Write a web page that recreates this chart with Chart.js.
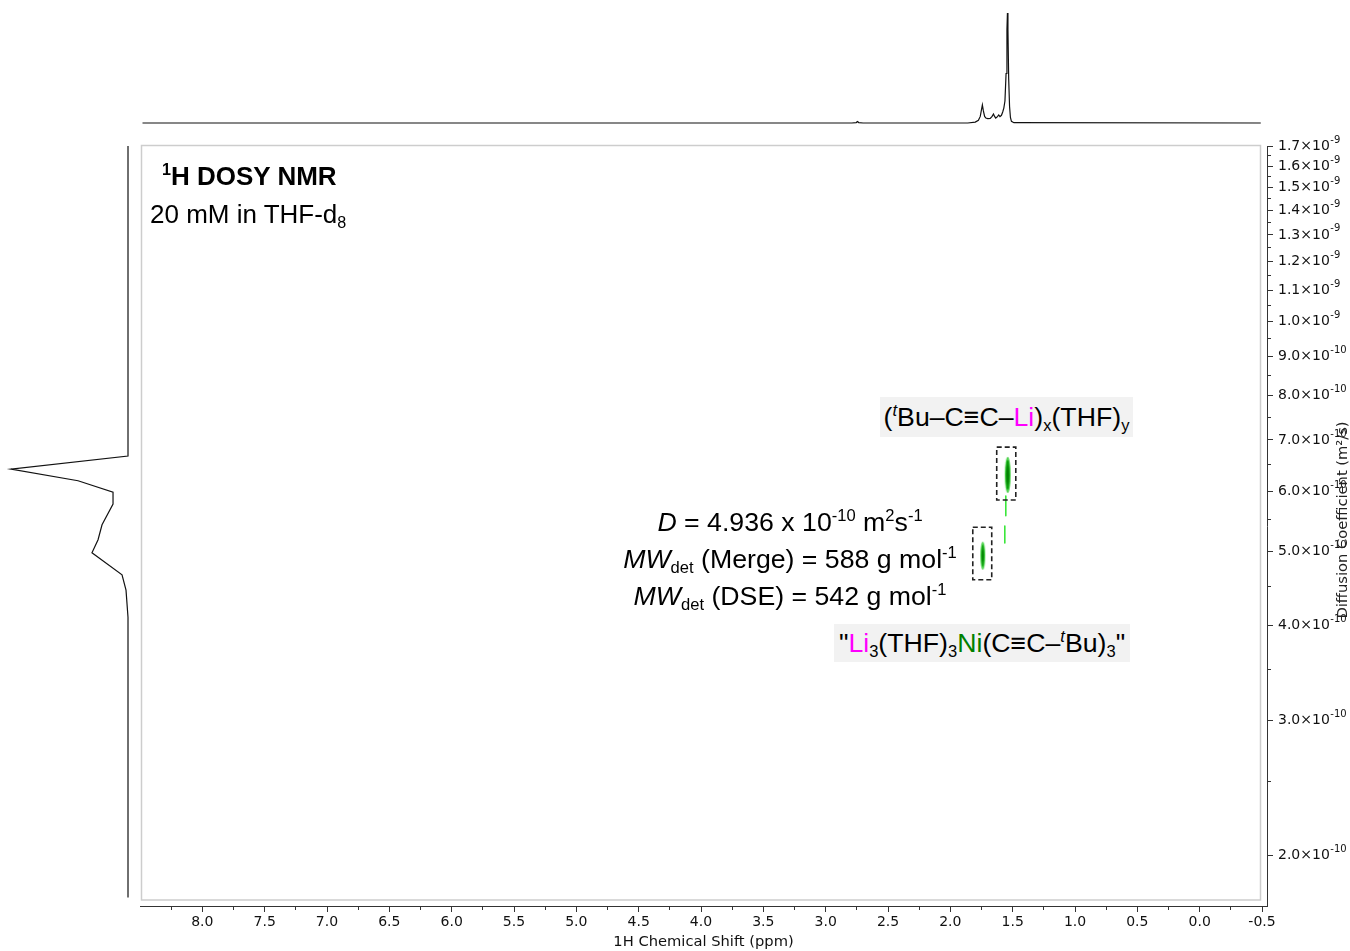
<!DOCTYPE html>
<html>
<head>
<meta charset="utf-8">
<script src="https://cdn.jsdelivr.net/npm/chart.js@4.4.1/dist/chart.umd.min.js"></script>
<style>
  html, body { margin: 0; padding: 0; background: #fff; }
  #wrap { position: relative; width: 1350px; height: 951px; overflow: hidden;
          font-family: "Liberation Sans", Arial, sans-serif; color: #000; }
  canvas { position: absolute; }
  #main { left: 0; top: 0; }
  #top  { left: 140px; top: 0; }
  #side { left: 0; top: 146px; }
  .lbl { position: absolute; white-space: nowrap; font-size: 26.7px; }
  sup, sub { font-size: 62%; line-height: 0; position: relative; vertical-align: baseline; }
  sup { top: -0.62em; }
  sub { top: 0.32em; }
  .box { background: #f2f2f2; text-align: center; }
  .li { color: #ff00ff; }
  .ni { color: #008000; }
</style>
</head>
<body>
<div id="wrap">
  <canvas id="main" width="1350" height="951"></canvas>
  <canvas id="top" width="1127" height="130"></canvas>
  <canvas id="side" width="135" height="760"></canvas>

  <div class="lbl" style="left:162px;top:160px;font-weight:bold;font-size:26px;line-height:32px"><sup>1</sup>H DOSY NMR</div>
  <div class="lbl" style="left:150px;top:198px;font-size:26px;line-height:32px">20 mM in THF-d<sub>8</sub></div>

  <div class="lbl box" style="left:880px;top:397px;width:253px;height:40px;line-height:40px">(<sup><i>t</i></sup>Bu–C≡C–<span class="li">Li</span>)<sub>x</sub>(THF)<sub>y</sub></div>

  <div class="lbl" style="left:590px;top:504px;width:400px;text-align:center;line-height:37px"><i>D</i> = <span id="dval"></span> x 10<sup>-10</sup> m<sup>2</sup>s<sup>-1</sup><br><i>MW</i><sub>det</sub> (Merge) = 588 g mol<sup>-1</sup><br><i>MW</i><sub>det</sub> (DSE) = 542 g mol<sup>-1</sup></div>

  <div class="lbl box" style="left:834px;top:624px;width:296px;height:38px;line-height:38px">"<span class="li">Li</span><sub>3</sub>(THF)<sub>3</sub><span class="ni">Ni</span>(C≡C–<sup><i>t</i></sup>Bu)<sub>3</sub>"</div>
</div>

<script>
// ---- 1D 1H spectrum (top projection): chemical shift (ppm) / relative intensity
const specShift = [8.48, 2.79, 2.755, 2.745, 2.735, 2.70, 1.86, 1.80, 1.775, 1.76, 1.752, 1.743, 1.735,
                   1.725, 1.715, 1.70, 1.68, 1.665, 1.654, 1.645, 1.636, 1.622, 1.612, 1.602, 1.59,
                   1.58, 1.571, 1.562, 1.553, 1.546, 1.542, 1.538, 1.532, 1.525, 1.518, 1.51, 1.49, -0.49];
const specIntensity = [0, 0, 0.004, 0.014, 0.004, 0, 0, 0.008, 0.025, 0.06, 0.11, 0.164, 0.11,
                       0.06, 0.045, 0.04, 0.042, 0.06, 0.082, 0.06, 0.045, 0.058, 0.073, 0.058, 0.07,
                       0.1, 0.136, 0.2, 0.45, 0.85, 1.0, 0.85, 0.4, 0.15, 0.05, 0.015, 0.003, 0];

// ---- Diffusion projection (left): diffusion coefficient (m^2/s) / relative intensity
const projD = [1.7e-9, 6.67e-10, 6.41e-10, 6.19e-10, 5.98e-10, 5.77e-10, 5.42e-10, 5.18e-10,
               4.98e-10, 4.66e-10, 4.45e-10, 4.10e-10, 1.76e-10];
const projIntensity = [0, 0, 1.0, 0.427, 0.128, 0.128, 0.222, 0.256, 0.308, 0.051, 0.017, 0, 0];

// ---- Cross peaks of the DOSY map (shift, diffusion coefficient)
const crossShift = [1.540, 1.740];
const crossD     = [6.30e-10, 4.936e-10];

// ---- Weak streaks between the two species
const streakShift = [1.555, 1.563];
const streakDHigh = [5.91e-10, 5.40e-10];
const streakDLow  = [5.57e-10, 5.13e-10];

// ---- Marked regions around the cross peaks
const boxShiftLeft  = [1.628, 1.820];
const boxShiftRight = [1.475, 1.668];
const boxDHigh      = [6.85e-10, 5.38e-10];
const boxDLow       = [5.84e-10, 4.59e-10];

// ---- Axis ranges and ticks
const X_MIN = -0.54, X_MAX = 8.5;
const D_MIN = 1.715e-10, D_MAX = 1.7e-9;
const SPEC_MIN = -0.0636, SPEC_MAX = 1.118;
const PROJ_MIN = -0.0598, PROJ_MAX = 1.094;

const xMajorTicks = [8.0, 7.5, 7.0, 6.5, 6.0, 5.5, 5.0, 4.5, 4.0, 3.5, 3.0, 2.5, 2.0, 1.5, 1.0, 0.5, 0.0, -0.5];
const xTickLabels = ['8.0', '7.5', '7.0', '6.5', '6.0', '5.5', '5.0', '4.5', '4.0', '3.5', '3.0', '2.5',
                     '2.0', '1.5', '1.0', '0.5', '0.0', '-0.5'];
const xMinorTicks = [8.25, 7.75, 7.25, 6.75, 6.25, 5.75, 5.25, 4.75, 4.25, 3.75, 3.25, 2.75, 2.25,
                     1.75, 1.25, 0.75, 0.25, -0.25];

const yMajorTicks = [2e-10, 3e-10, 4e-10, 5e-10, 6e-10, 7e-10, 8e-10, 9e-10,
                     1.0e-9, 1.1e-9, 1.2e-9, 1.3e-9, 1.4e-9, 1.5e-9, 1.6e-9, 1.7e-9];
const yTickLabels = ['2.0×10', '3.0×10', '4.0×10', '5.0×10', '6.0×10', '7.0×10', '8.0×10', '9.0×10',
                     '1.0×10', '1.1×10', '1.2×10', '1.3×10', '1.4×10', '1.5×10', '1.6×10', '1.7×10'];
const yTickExponents = ['-10', '-10', '-10', '-10', '-10', '-10', '-10', '-10',
                        '-9', '-9', '-9', '-9', '-9', '-9', '-9', '-9'];
const yMinorTicks = [2.5e-10, 3.5e-10, 4.5e-10, 5.5e-10, 6.5e-10, 7.5e-10, 8.5e-10, 9.5e-10,
                     1.05e-9, 1.15e-9, 1.25e-9, 1.35e-9, 1.45e-9, 1.55e-9, 1.65e-9];

// D value printed next to the lower cross peak
document.getElementById('dval').textContent = (crossD[1] / 1e-10).toFixed(3);

Chart.defaults.font.family = 'DejaVu Sans';
Chart.defaults.animation = false;

const pts = (xs, ys) => xs.map((x, i) => ({ x: x, y: ys[i] }));
const seg = (style, data) => Object.assign({
  data: data, showLine: true, pointRadius: 0, fill: false, tension: 0
}, style);

// elongated contour glyph used as point style for the cross peaks
function contourGlyph(w, h) {
  const c = document.createElement('canvas');
  c.width = w + 2; c.height = h + 2;
  const g = c.getContext('2d');
  const cx = c.width / 2, cy = c.height / 2;
  g.fillStyle = '#52d452';
  g.beginPath(); g.ellipse(cx, cy, w / 2, h / 2, 0, 0, Math.PI * 2); g.fill();
  g.fillStyle = '#0c9e0c';
  g.beginPath(); g.ellipse(cx, cy, w / 2 - 1, h / 2 - 3, 0, 0, Math.PI * 2); g.fill();
  g.fillStyle = '#067f06';
  g.beginPath(); g.ellipse(cx, cy, Math.max(w / 2 - 2, 0.6), h / 2 - 8, 0, 0, Math.PI * 2); g.fill();
  return c;
}
const glyphs = [contourGlyph(6, 36), contourGlyph(5, 28)];

// ---------------- main DOSY map ----------------
const mapSets = [];
boxShiftLeft.forEach((L, i) => {
  const R = boxShiftRight[i], H = boxDHigh[i], Lo = boxDLow[i];
  mapSets.push(seg({ borderColor: '#222', borderWidth: 1.6, borderDash: [5, 3] },
    [{ x: L, y: H }, { x: R, y: H }, { x: R, y: Lo }, { x: L, y: Lo }, { x: L, y: H }]));
});
streakShift.forEach((s, i) => {
  mapSets.push(seg({ borderColor: '#2ee52e', borderWidth: 1.5, borderCapStyle: 'round' },
    [{ x: s, y: streakDHigh[i] }, { x: s, y: streakDLow[i] }]));
});
mapSets.push({
  data: pts(crossShift, crossD), showLine: false,
  pointStyle: glyphs, pointRadius: 10
});

const framePlugin = {
  id: 'frameAndTitle',
  beforeDatasetsDraw(chart) {
    const a = chart.chartArea, c = chart.ctx;
    c.save();
    c.strokeStyle = '#cdcdcd';
    c.lineWidth = 1.5;
    c.strokeRect(a.left + 1.5, a.top - 0.5, (a.right - 6.5) - (a.left + 1.5), (a.bottom - 6) - (a.top - 0.5));
    c.restore();
  },
  afterDraw(chart) {
    const a = chart.chartArea, c = chart.ctx, ys = chart.scales.y;
    c.save();
    // exponents of the diffusion tick labels
    c.fillStyle = '#111';
    c.textAlign = 'left';
    c.textBaseline = 'middle';
    yMajorTicks.forEach((v, i) => {
      c.font = '14px "DejaVu Sans"';
      const w = c.measureText(yTickLabels[i]).width;
      const px = ys.getPixelForValue(v);
      c.font = '10px "DejaVu Sans"';
      c.fillText(yTickExponents[i], ys.left + 11 + w + 0.5, px - 6);
    });
    // diffusion axis title
    c.translate(1343, (a.top + a.bottom) / 2 - 6);
    c.rotate(-Math.PI / 2);
    c.textAlign = 'center';
    c.textBaseline = 'middle';
    c.font = '14.7px "DejaVu Sans"';
    c.fillStyle = '#222';
    c.fillText('Diffusion Coefficient (m²/s)', 0, 0);
    c.restore();
  }
};

const tickFont = { family: 'DejaVu Sans', size: 14 };

new Chart(document.getElementById('main'), {
  type: 'scatter',
  data: { datasets: mapSets },
  options: {
    responsive: false,
    events: [],
    layout: { padding: { left: 140, top: 146, right: 0, bottom: 0 } },
    plugins: { legend: { display: false }, tooltip: { enabled: false } },
    scales: {
      x: {
        type: 'linear', position: 'bottom', reverse: true, min: X_MIN, max: X_MAX,
        afterBuildTicks: s => { s.ticks = xMajorTicks.concat(xMinorTicks).sort((a, b) => a - b).map(v => ({ value: v })); },
        afterFit: s => { s.height = 45; },
        ticks: {
          autoSkip: false, maxRotation: 0, minRotation: 0, padding: 2, color: '#111', font: tickFont,
          callback: v => { const i = xMajorTicks.indexOf(v); return i < 0 ? '' : xTickLabels[i]; }
        },
        grid: {
          drawOnChartArea: false, drawTicks: true, tickLength: 6, tickColor: '#333', tickWidth: 1,
          tickBorderDash: ctx => (ctx.tick && xMajorTicks.indexOf(ctx.tick.value) >= 0) ? [] : [3, 30]
        },
        border: { display: true, color: '#333', width: 1 },
        title: { display: true, text: '1H Chemical Shift (ppm)', color: '#111',
                 font: { family: 'DejaVu Sans', size: 14.7 }, padding: { top: 0, bottom: 0 } }
      },
      y: {
        type: 'logarithmic', position: 'right', min: D_MIN, max: D_MAX,
        afterBuildTicks: s => { s.ticks = yMajorTicks.concat(yMinorTicks).sort((a, b) => a - b).map(v => ({ value: v })); },
        afterFit: s => { s.width = 83; },
        ticks: {
          autoSkip: false, padding: 5, color: '#111', font: tickFont,
          callback: v => { const i = yMajorTicks.indexOf(v); return i < 0 ? '' : yTickLabels[i]; }
        },
        grid: {
          drawOnChartArea: false, drawTicks: true, tickLength: 6, tickColor: '#333', tickWidth: 1,
          tickBorderDash: ctx => (ctx.tick && yMajorTicks.indexOf(ctx.tick.value) >= 0) ? [] : [3, 30]
        },
        border: { display: true, color: '#333', width: 1 }
      }
    }
  },
  plugins: [framePlugin]
});

// ---------------- top 1H spectrum ----------------
new Chart(document.getElementById('top'), {
  type: 'scatter',
  data: { datasets: [seg({ borderColor: '#111', borderWidth: 1.2 }, pts(specShift, specIntensity))] },
  options: {
    responsive: false, events: [],
    layout: { padding: 0 },
    plugins: { legend: { display: false }, tooltip: { enabled: false } },
    scales: {
      x: { type: 'linear', display: false, reverse: true, min: X_MIN, max: X_MAX },
      y: { type: 'linear', display: false, min: SPEC_MIN, max: SPEC_MAX }
    }
  }
});

// ---------------- left diffusion projection ----------------
new Chart(document.getElementById('side'), {
  type: 'scatter',
  data: { datasets: [seg({ borderColor: '#111', borderWidth: 1.2 }, projD.map((d, i) => ({ x: projIntensity[i], y: d })))] },
  options: {
    responsive: false, events: [],
    layout: { padding: 0 },
    plugins: { legend: { display: false }, tooltip: { enabled: false } },
    scales: {
      x: { type: 'linear', display: false, reverse: true, min: PROJ_MIN, max: PROJ_MAX },
      y: { type: 'logarithmic', display: false, min: D_MIN, max: D_MAX }
    }
  }
});
</script>
</body>
</html>
